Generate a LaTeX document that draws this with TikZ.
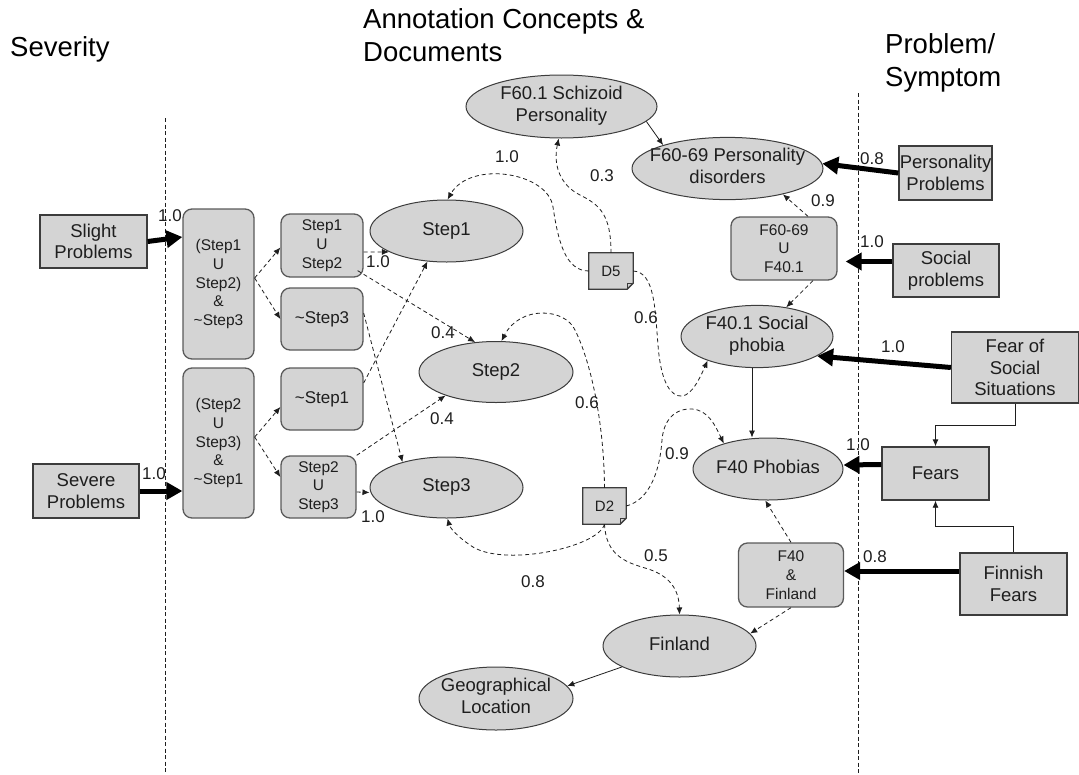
\documentclass[tikz,border=0pt]{standalone}
\usepackage{fontspec}
\setmainfont{Liberation Sans}
\usetikzlibrary{shapes.geometric,arrows.meta,calc,backgrounds}

\definecolor{nodefill}{HTML}{D4D4D4}
\definecolor{edgegray}{HTML}{3C3C3C}
\definecolor{boxgray}{HTML}{5A5A5A}
\definecolor{ink}{HTML}{1E1E1E}

% centred multi-line text that does not widen an ellipse
\newcommand{\ctext}[1]{\makebox[0pt]{\begin{tabular}{@{}c@{}}#1\end{tabular}}}

\begin{document}
\begin{tikzpicture}[x=1pt,y=-1pt,
  concept/.style={ellipse, draw=edgegray, line width=1pt, fill=nodefill, inner sep=0pt,
    text=ink, font=\fontsize{18.5}{22}\selectfont},
  sharpbox/.style={rectangle, draw=edgegray, line width=1.3pt, fill=nodefill, inner sep=0pt,
    text=ink, font=\fontsize{18.5}{21.5}\selectfont, align=center},
  roundbox/.style={rectangle, rounded corners=9pt, draw=boxgray, line width=1.3pt, fill=nodefill,
    inner sep=0pt, text=ink, font=\fontsize{15.5}{18.8}\selectfont, align=center},
  docnode/.style={rectangle, inner sep=0pt, text=ink, font=\fontsize{15}{17}\selectfont},
  weight/.style={text=ink, font=\fontsize{17}{19}\selectfont, inner sep=0pt},
  header/.style={text=black, font=\fontsize{27.5}{33}\selectfont, align=left, inner sep=0pt, anchor=base west},
  divider/.style={draw=ink, line width=0.8pt, dash pattern=on 4pt off 2.5pt},
  strong/.style={draw=black, line width=5pt, -{Triangle[length=16pt,width=17pt]}},
  link/.style={draw=ink, line width=0.8pt, -{Latex[length=7pt,width=6pt]}},
  dlink/.style={link, dash pattern=on 4pt off 3pt},
]
\useasboundingbox (0,0) rectangle (1079,774);

% column headings
\node[header] (hsev) at (10,56) {Severity};
\node[header, anchor=north west] (hann) at (363,8) {Annotation Concepts \&\\Documents};
\node[header, anchor=north west] (hprob) at (885,33) {Problem/\\Symptom};

% column dividers
\coordinate (dl1) at (165,118);
\coordinate (dl2) at (165,774);
\coordinate (dr1) at (858,93);
\coordinate (dr2) at (858,774);
\draw[divider] (dl1) -- (dl2);
\draw[divider] (dr1) -- (dr2);

% severity
\node[sharpbox, minimum width=107, minimum height=53] (slight) at (93.5,241.5) {Slight\\Problems};
\node[sharpbox, minimum width=106, minimum height=54] (severe) at (86,491) {Severe\\Problems};

\node[roundbox, minimum width=71, minimum height=150] (big1) at (218.5,284) {(Step1\\U\\Step2)\\\&\\\textasciitilde Step3};
\node[roundbox, minimum width=71, minimum height=150] (big2) at (218.5,443) {(Step2\\U\\Step3)\\\&\\\textasciitilde Step1};

\node[roundbox, minimum width=82, minimum height=63] (s1u2) at (322,245.5) {Step1\\U\\Step2};
\node[roundbox, minimum width=82, minimum height=62, font=\fontsize{17}{19}\selectfont] (nots3) at (322,319) {\textasciitilde Step3};
\node[roundbox, minimum width=82, minimum height=62, font=\fontsize{17}{19}\selectfont] (nots1) at (322,399) {\textasciitilde Step1};
\node[roundbox, minimum width=75, minimum height=62] (s2u3) at (318.5,487) {Step2\\U\\Step3};

% concepts
\node[concept, minimum width=153, minimum height=62] (step1) at (446.5,231) {\ctext{Step1}};
\node[concept, minimum width=154, minimum height=61] (step2) at (496,372) {\ctext{Step2}};
\node[concept, minimum width=153, minimum height=61] (step3) at (446.5,487.5) {\ctext{Step3}};
\node[concept, minimum width=191, minimum height=63] (f601) at (561.5,106.5) {\ctext{F60.1 Schizoid\\Personality}};
\node[concept, minimum width=191, minimum height=61] (f6069) at (727.5,168.5) {\ctext{F60-69 Personality\\disorders}};
\node[concept, minimum width=152, minimum height=61] (f401) at (757,336.5) {\ctext{F40.1 Social\\phobia}};
\node[concept, minimum width=150, minimum height=62] (f40) at (768,469) {\ctext{F40 Phobias}};
\node[concept, minimum width=153, minimum height=62] (finland) at (679.5,646) {\ctext{Finland}};
\node[concept, minimum width=154, minimum height=63] (geo) at (496,698.5) {\ctext{Geographical\\Location}};

\node[roundbox, minimum width=106, minimum height=63] (f6069u) at (784,248.5) {F60-69\\U\\F40.1};
\node[roundbox, minimum width=105, minimum height=64] (f40fin) at (791,575) {F40\\\&\\Finland};

% documents
\node[docnode, minimum width=44, minimum height=36] (d5) at (611,271) {D5};
\node[docnode, minimum width=43, minimum height=36] (d2) at (604.5,506) {D2};
\begin{scope}[on background layer]
  \foreach \d in {d5,d2} {
    \filldraw[draw=edgegray, fill=nodefill, line width=1.3pt]
      (\d.north west) -- (\d.north east) -- ([yshift=6pt]\d.south east)
      -- ([xshift=-6pt]\d.south east) -- (\d.south west) -- cycle;
    \draw[edgegray, line width=0.7pt]
      ([yshift=6pt]\d.south east) -- ([xshift=-6pt,yshift=6pt]\d.south east) -- ([xshift=-6pt]\d.south east);
  }
\end{scope}

% problems / symptoms
\node[sharpbox, minimum width=93, minimum height=54] (persp) at (945.5,173) {Personality\\Problems};
\node[sharpbox, minimum width=106, minimum height=53] (socp) at (946,270.5) {Social\\problems};
\node[sharpbox, minimum width=127, minimum height=71] (foss) at (1015,367.5) {Fear of\\Social\\Situations};
\node[sharpbox, minimum width=107, minimum height=53] (fears) at (935.5,473.5) {Fears};
\node[sharpbox, minimum width=107, minimum height=62] (finf) at (1013.5,584) {Finnish\\Fears};

% weighted mappings (bold)
\draw[strong] (slight.east) -- ([yshift=47pt]big1.west);
\draw[strong] (severe.east) -- (big2.west |- severe.east);
\draw[strong] (persp.west) -- (f6069.3);
\draw[strong] ([yshift=9pt]socp.west) -- ([xshift=8pt,yshift=-13pt]f6069u.east);
\draw[strong] (foss.west) -- (f401.342);
\draw[strong] ([yshift=9pt]fears.west) -- ([yshift=4pt]f40.east);
\draw[strong] ([yshift=13pt]finf.west) -- ([yshift=4pt]f40fin.east);

% subsumption (solid)
\draw[link] (f601.350) -- (f6069.160);
\draw[link] ([xshift=-5pt]f401.south) -- ([xshift=-5pt]f401.south |- f40.north);
\draw[link] (foss.south) -- ++(0,22) -| (fears.north);
\draw[link] (finf.north) -- ++(0,-26) -| (fears.south);
\draw[link] (finland.200) -- (geo.10);

% boolean decompositions (dashed)
\draw[dlink] ([yshift=6pt]big1.east) -- ([yshift=-2pt]s1u2.west);
\draw[dlink] ([yshift=6pt]big1.east) -- (nots3.west);
\draw[dlink] ([yshift=6pt]big2.east) -- ([yshift=-8pt]nots1.west);
\draw[dlink] ([yshift=6pt]big2.east) -- ([yshift=10pt]s2u3.west);

\draw[dlink] ([yshift=-6.5pt]s1u2.east) -- (step1.200);
\draw[dlink] ($(s1u2.south east)+(-6,-7)$) -- (step2.125);
\draw[dlink] ([yshift=6pt]nots3.east) -- (step3.150);
\draw[dlink] ([yshift=16pt]nots1.east) -- (step1.238);
\draw[dlink] (s2u3.north east) -- (step2.205);
\draw[dlink] ([yshift=-5pt]s2u3.east) -- ([yshift=-5pt]step3.west);

\draw[dlink] ([xshift=24pt]f6069u.north) -- (f6069.335);
\draw[dlink] ([xshift=29pt]f6069u.south) -- (f401.45);
\draw[dlink] (f40fin.north) -- (f40.265);
\draw[dlink] (f40fin.south) -- (finland.10);

% document annotations (curved, dashed)
\draw[dlink] (d5.west) .. controls (565,271) and (558,240) .. (553,207)
  .. controls (548,172) and (470,160) .. (step1.88);
\draw[dlink] (d5.north) .. controls (611,215) and (600,205) .. (580,195)
  .. controls (560,185) and (553,165) .. (f601.265);
\draw[dlink] (d5.east) .. controls (655,272) and (655,310) .. (658,345)
  .. controls (661,385) and (672,397) .. (682,396)
  .. controls (692,395) and (700,378) .. (f401.206);
\draw[dlink] (d2.north) .. controls (604,420) and (590,360) .. (575,330)
  .. controls (565,308) and (520,305) .. (step2.80);
\draw[dlink] (d2.south) .. controls (598,548) and (500,568) .. (470,545)
  .. controls (458,537) and (450,528) .. (step3.272);
\draw[dlink] (d2.east) .. controls (650,500) and (660,470) .. (662,440)
  .. controls (664,415) and (680,408) .. (692,409)
  .. controls (708,410) and (715,425) .. (f40.150);
\draw[dlink] (d2.south) .. controls (606,555) and (625,562) .. (645,568)
  .. controls (670,575) and (679,590) .. (finland.north);

% weights
\node[weight] (w1) at (170,216) {1.0};
\node[weight] (w2) at (154,474) {1.0};
\node[weight] (w3) at (378,262) {1.0};
\node[weight] (w4) at (443,333) {0.4};
\node[weight] (w5) at (442,419) {0.4};
\node[weight] (w6) at (373,517) {1.0};
\node[weight] (w7) at (507,157) {1.0};
\node[weight] (w8) at (602,176) {0.3};
\node[weight] (w9) at (646,318) {0.6};
\node[weight] (w10) at (587,403) {0.6};
\node[weight] (w11) at (533,582) {0.8};
\node[weight] (w12) at (677,454) {0.9};
\node[weight] (w13) at (656,556) {0.5};
\node[weight] (w14) at (823,201) {0.9};
\node[weight] (w15) at (872,159) {0.8};
\node[weight] (w16) at (872,242) {1.0};
\node[weight] (w17) at (893,347) {1.0};
\node[weight] (w18) at (858,445) {1.0};
\node[weight] (w19) at (875,557) {0.8};
\end{tikzpicture}
\end{document}
